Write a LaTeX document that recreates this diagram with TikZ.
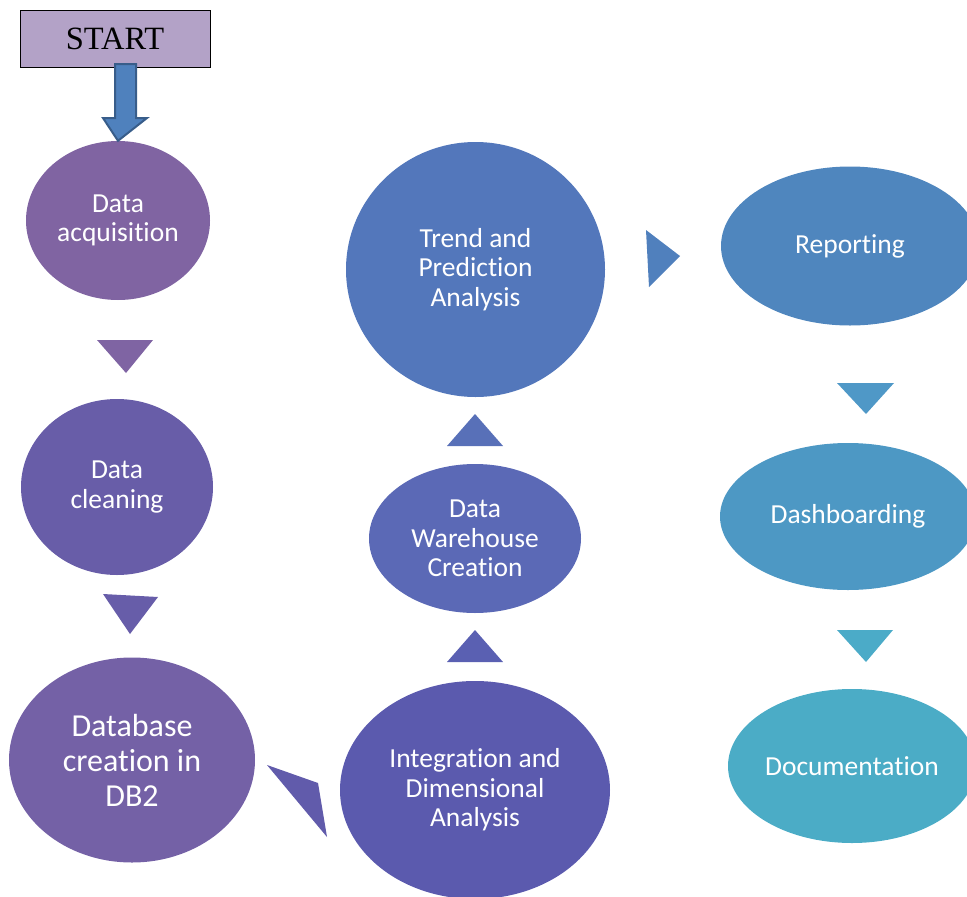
\documentclass[tikz,border=0pt]{standalone}
\usepackage{fontspec}
\setmainfont{Carlito}[Ligatures=NoCommon]
\newfontfamily\timesfont{Liberation Serif}
\usetikzlibrary{shapes.geometric}
\definecolor{cAcq}{HTML}{8064A2}
\definecolor{cCln}{HTML}{685DA8}
\definecolor{cDb}{HTML}{7461A6}
\definecolor{cInt}{HTML}{5B5AAE}
\definecolor{cWh}{HTML}{5B69B6}
\definecolor{cTr}{HTML}{5377BB}
\definecolor{cRep}{HTML}{4F86BE}
\definecolor{cDash}{HTML}{4D98C4}
\definecolor{cDoc}{HTML}{4BACC6}
\definecolor{tA}{HTML}{7F64A3}
\definecolor{tB}{HTML}{675DA9}
\definecolor{tC}{HTML}{615BAB}
\definecolor{tD}{HTML}{5A60B2}
\definecolor{tE}{HTML}{5870B8}
\definecolor{tF}{HTML}{5080BD}
\definecolor{tG}{HTML}{4F98C7}
\definecolor{tH}{HTML}{4BABC8}
\definecolor{startfill}{HTML}{B3A2C7}
\definecolor{arrfill}{HTML}{4F81BD}
\definecolor{arrline}{HTML}{385D8A}
\tikzset{
  stage/.style={ellipse, inner sep=0pt, text=white, align=center,
    font=\fontsize{27.5}{29.5}\selectfont},
  chev/.style={draw=none}
}
\begin{document}
\begin{tikzpicture}[x=1pt,y=-1pt]
\useasboundingbox (0,0) rectangle (967,897);
\clip (0,0) rectangle (967,897);
% start box
\node[draw=black, line width=1pt, fill=startfill, minimum width=190pt, minimum height=57pt, inner sep=0pt,
  font=\timesfont\fontsize{32.5}{36}\selectfont] (start) at (115,38.5) {START};
% stages
\node[stage, fill=cAcq, minimum width=184pt, minimum height=159pt] (acq) at (118,220.5) {Data\\acquisition};
\node[stage, fill=cCln, minimum width=192pt, minimum height=176pt] (cln) at (117,487) {Data\\cleaning};
\node[stage, fill=cDb, minimum width=246pt, minimum height=205pt,
  font=\fontsize{32}{35}\selectfont] (db) at (132,760) {Database\\creation in\\DB2};
\node[stage, fill=cInt, minimum width=270pt, minimum height=218pt] (int) at (475,790) {Integration and\\Dimensional\\Analysis};
\node[stage, fill=cWh, minimum width=212pt, minimum height=149pt] (wh) at (475,538.5) {Data\\Warehouse\\Creation};
\node[stage, fill=cTr, minimum width=259pt, minimum height=255pt] (tr) at (475.5,269.5) {Trend and\\Prediction\\Analysis};
\node[stage, fill=cRep, minimum width=258pt, minimum height=159pt] (rep) at (850,246) {Reporting};
\node[stage, fill=cDash, minimum width=256pt, minimum height=147pt] (dash) at (848,516.5) {Dashboarding};
\node[stage, fill=cDoc, minimum width=248pt, minimum height=154pt] (doc) at (852,766) {Documentation};
% block arrow from START to Data acquisition
\draw[line width=2pt, draw=arrline, fill=arrfill, line join=miter]
  (115,64) -- (136,64) -- (136,118) -- (147,118) -- (acq.north) -- (103,118) -- (115,118) -- cycle;
% chevron connectors
\fill[tA] (97,340) -- (153,340) -- (126,373) -- cycle;
\fill[tB] (103,594) -- (158,597) -- (130,634) -- cycle;
\fill[tC] (267,765) -- (318,783) -- (327,837) -- cycle;
\fill[tD] (447,662) -- (503,662) -- (475,630) -- cycle;
\fill[tE] (447,446) -- (503,446) -- (475,414) -- cycle;
\fill[tF] (646,230) -- (680,256) -- (649,287) -- cycle;
\fill[tG] (837,383) -- (894,383) -- (866,414) -- cycle;
\fill[tH] (837,630) -- (893,630) -- (866,662) -- cycle;
\end{tikzpicture}
\end{document}
